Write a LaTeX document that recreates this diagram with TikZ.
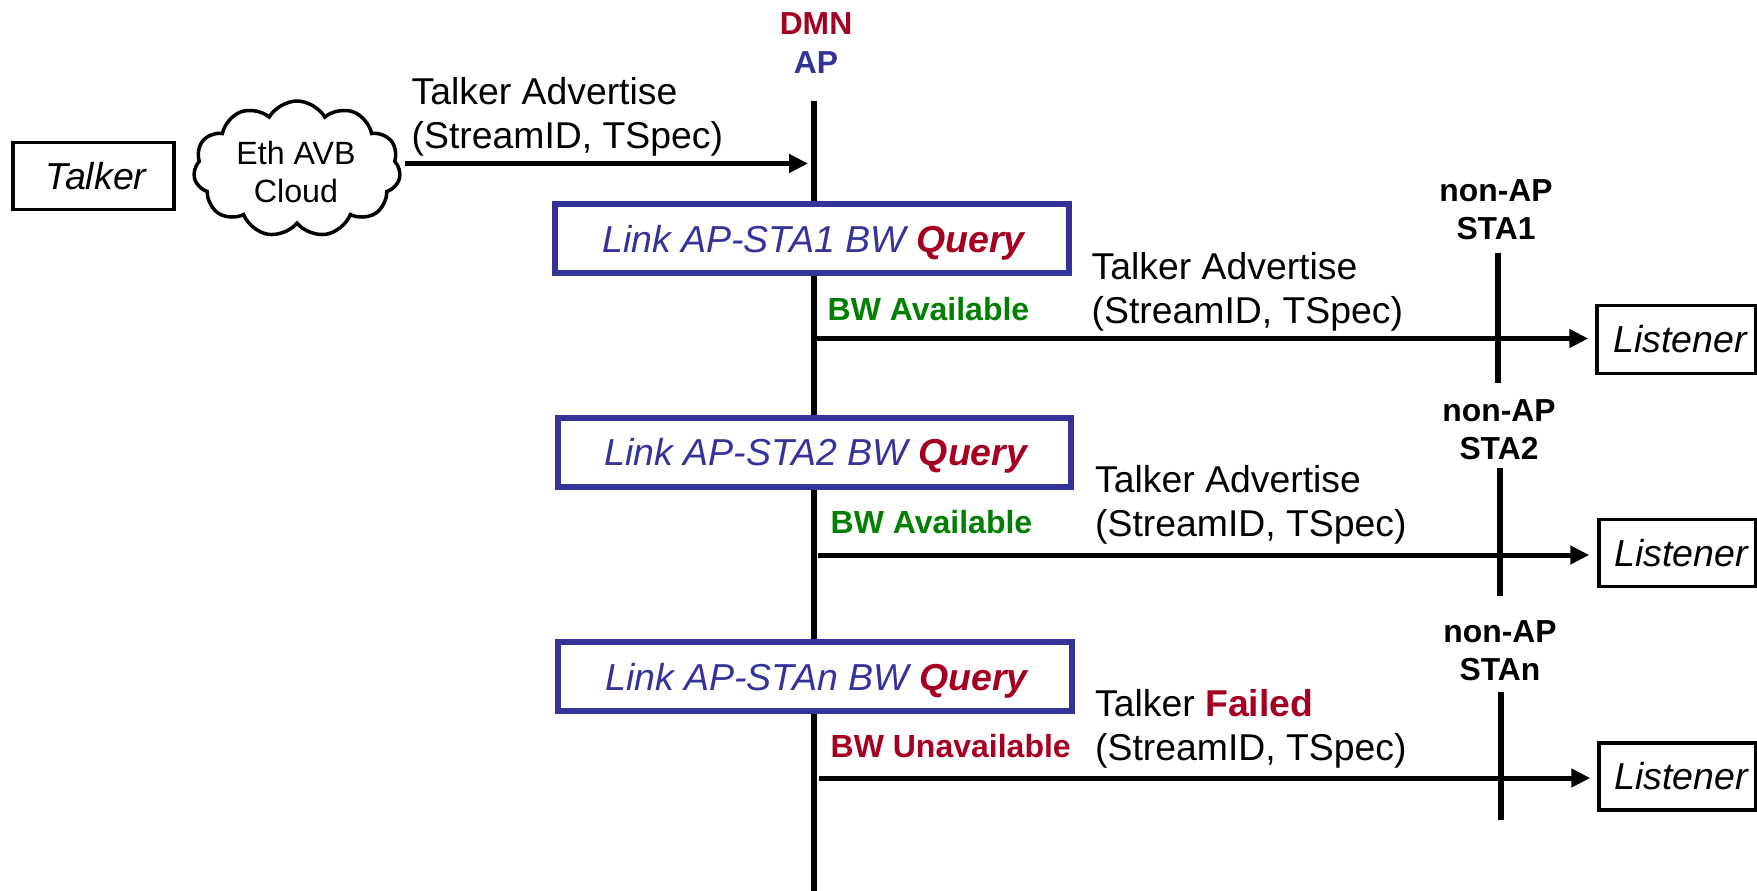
\documentclass[tikz,border=0pt]{standalone}
\usepackage{fontspec}
\setmainfont{Liberation Sans}
\usepackage{xcolor}
\usetikzlibrary{arrows.meta}
\usetikzlibrary{shapes.symbols}
\definecolor{dmnred}{HTML}{A50021}
\definecolor{apblue}{HTML}{333399}
\definecolor{bwgreen}{HTML}{008000}
\tikzset{
  lifeline/.style={line width=6*0.01cm},
  msgarrow/.style={->,line width=5*0.01cm},
  endbox/.style={draw,line width=3.5*0.01cm,inner sep=0pt,font=\fontsize{10.67}{12.5}\selectfont\itshape},
  querybox/.style={draw=apblue,fill=white,line width=6*0.01cm,inner sep=0pt,text depth=0pt,text=apblue,font=\fontsize{10.67}{12.5}\selectfont\itshape},
  msgtext/.style={anchor=west,inner sep=0pt,align=left,font=\fontsize{10.62}{12.5}\selectfont},
  bwtext/.style={anchor=west,inner sep=0pt,font=\fontsize{9.1}{11}\selectfont\bfseries},
  statext/.style={inner sep=0pt,align=center,font=\fontsize{9.05}{10.7}\selectfont\bfseries}
}
\begin{document}
\begin{tikzpicture}[>={Triangle[length=19*0.01cm,width=18*0.01cm]},x=0.01cm,y=-0.01cm]
  \useasboundingbox (0,0) rectangle (1757,891);

  % AP line
  \coordinate (apTop) at (813.5,101);
  \coordinate (apBot) at (813.5,891);
  \draw[lifeline] (apTop) -- (apBot);
  \node[statext,font=\fontsize{9.05}{11}\selectfont\bfseries] (apName) at (816,43) {\textcolor{dmnred}{DMN}\\\textcolor{apblue}{AP}};

  % talker side
  \node[endbox,minimum width=161*0.01cm,minimum height=67*0.01cm] (talker) at (93.5,176) {\hspace{0.05cm}Talker};
  \node[draw,shape=cloud,cloud puffs=11,cloud puff arc=120,aspect=1.5,line width=3.5*0.01cm,
        minimum width=207*0.01cm,minimum height=136*0.01cm,inner sep=0pt] (cloud) at (297,169) {};
  \node[inner sep=0pt,align=center,font=\fontsize{9.15}{10.6}\selectfont] (cloudText) at (296,172) {Eth AVB\\Cloud};
  \coordinate (advTip) at (808,163.5);
  \draw[msgarrow,shorten <=4*0.01cm] (cloud.east |- advTip) -- (advTip);
  \node[msgtext] (advText) at (411,117) {Talker Advertise\\(StreamID, TSpec)};

  % \draw query boxes
  \node[querybox,minimum width=514*0.01cm,minimum height=69*0.01cm] (queryA) at (811.5,239) {\hspace{0.04cm}Link AP-STA1 BW \textcolor{dmnred}{\textbf{Query}}};
  \node[querybox,minimum width=513*0.01cm,minimum height=69*0.01cm] (queryB) at (814,452) {\hspace{0.04cm}Link AP-STA2 BW \textcolor{dmnred}{\textbf{Query}}};
  \node[querybox,minimum width=514*0.01cm,minimum height=69*0.01cm] (queryC) at (814.5,676.5) {\hspace{0.04cm}Link AP-STAn BW \textcolor{dmnred}{\textbf{Query}}};

  \node[bwtext,text=bwgreen] (bwA) at (827,309) {BW Available};
  \node[bwtext,text=bwgreen] (bwB) at (830,522) {BW Available};
  \node[bwtext,text=dmnred] (bwC) at (830,746) {BW Unavailable};

  \node[msgtext] (msgA) at (1091,292) {Talker Advertise\\(StreamID, TSpec)};
  \node[msgtext] (msgB) at (1094.5,505) {Talker Advertise\\(StreamID, TSpec)};
  \node[msgtext] (msgC) at (1094.5,729) {Talker \textcolor{dmnred}{\textbf{Failed}}\\(StreamID, TSpec)};

  % \draw non-AP lines
  \node[statext] (staA) at (1496,209.5) {non-AP\\STA1};
  \node[statext] (staB) at (1499,430) {non-AP\\STA2};
  \node[statext] (staC) at (1500,651) {non-AP\\STAn};
  \coordinate (staTopA) at (1498,253);
  \coordinate (staBotA) at (1498,383);
  \coordinate (staTopB) at (1500,468);
  \coordinate (staBotB) at (1500,596);
  \coordinate (staTopC) at (1501,692);
  \coordinate (staBotC) at (1501,820);
  \draw[lifeline] (staTopA) -- (staBotA);
  \draw[lifeline] (staTopB) -- (staBotB);
  \draw[lifeline] (staTopC) -- (staBotC);

  % \draw listeners
  \node[endbox,minimum width=159*0.01cm,minimum height=68*0.01cm] (listenerA) at (1676.5,339.5) {\hspace{0.07cm}Listener};
  \node[endbox,minimum width=157*0.01cm,minimum height=67*0.01cm] (listenerB) at (1677.5,553) {\hspace{0.07cm}Listener};
  \node[endbox,minimum width=157*0.01cm,minimum height=67*0.01cm] (listenerC) at (1677.5,776.5) {\hspace{0.07cm}Listener};

  % \draw arrows
  \coordinate (fromA) at (817,338.5);
  \coordinate (fromB) at (818,555);
  \coordinate (fromC) at (819,778);
  \draw[msgarrow,shorten >=7*0.01cm] (fromA) -- (fromA -| listenerA.west);
  \draw[msgarrow,shorten >=8*0.01cm] (fromB) -- (fromB -| listenerB.west);
  \draw[msgarrow,shorten >=7*0.01cm] (fromC) -- (fromC -| listenerC.west);
\end{tikzpicture}
\end{document}
